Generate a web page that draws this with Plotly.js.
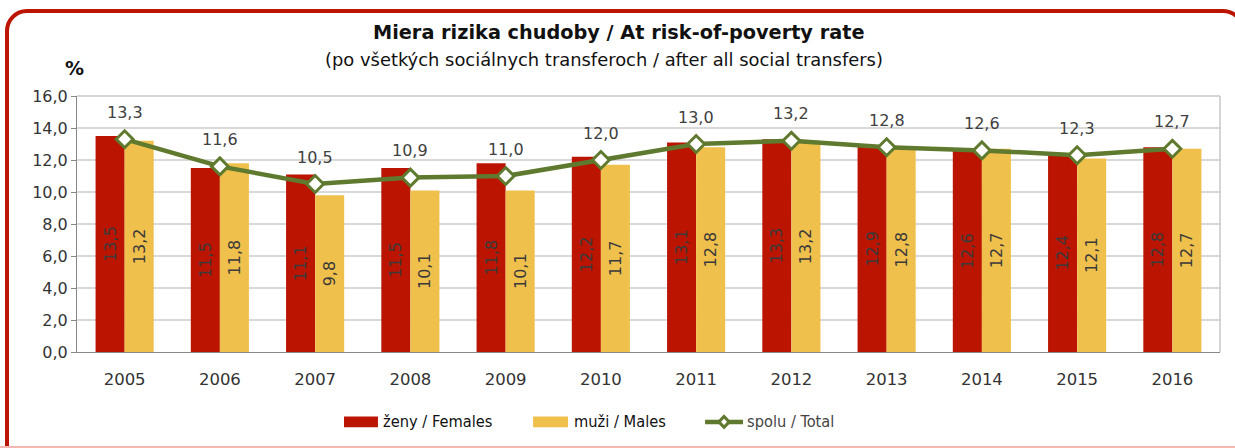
<!DOCTYPE html>
<html>
<head>
<meta charset="utf-8">
<script src="https://cdn.plot.ly/plotly-3.0.1.min.js"></script>
<style>
html,body{margin:0;padding:0;background:#fff;}
#wrap{position:relative;width:1235px;height:448px;overflow:hidden;}
#frame{position:absolute;left:5px;top:9px;width:1240px;height:460px;border:4px solid #bb1400;border-radius:22px;box-sizing:border-box;}
#bottomline{position:absolute;left:0;top:446px;width:1235px;height:2px;background:#f3b9b0;}
#chart{position:absolute;left:0;top:0;width:1235px;height:448px;}
</style>
</head>
<body>
<div id="wrap">
<div id="frame"></div>
<div id="bottomline"></div>
<div id="chart"></div>
</div>
<script>
const years = ['2005','2006','2007','2008','2009','2010','2011','2012','2013','2014','2015','2016'];
const females = [13.5, 11.5, 11.1, 11.5, 11.8, 12.2, 13.1, 13.3, 12.9, 12.6, 12.4, 12.8];
const males = [13.2, 11.8, 9.8, 10.1, 10.1, 11.7, 12.8, 13.2, 12.8, 12.7, 12.1, 12.7];
const total = [13.3, 11.6, 10.5, 10.9, 11.0, 12.0, 13.0, 13.2, 12.8, 12.6, 12.3, 12.7];
const yTicks = [0, 2, 4, 6, 8, 10, 12, 14, 16];
const seriesNames = ['ženy / Females', 'muži / Males', 'spolu / Total'];

const RED = '#bb1400', YELLOW = '#f0c04c', GREEN = '#5f7a2e';
const fmt = v => v.toFixed(1).replace('.', ',');
const barFont = {family: 'DejaVu Sans', size: 16, color: '#3a3a3a'};

const traces = [
  {
    type: 'bar', name: seriesNames[0], x: years, y: females,
    marker: {color: RED},
    text: females.map(fmt), textposition: 'inside', insidetextanchor: 'middle',
    textangle: -90, textfont: barFont, hoverinfo: 'skip'
  },
  {
    type: 'bar', name: seriesNames[1], x: years, y: males,
    marker: {color: YELLOW},
    text: males.map(fmt), textposition: 'inside', insidetextanchor: 'middle',
    textangle: -90, textfont: barFont, hoverinfo: 'skip'
  },
  {
    type: 'scatter', mode: 'lines+markers', name: seriesNames[2], x: years, y: total,
    line: {color: GREEN, width: 4.5},
    marker: {symbol: 'diamond', size: 13, color: '#ffffff', line: {color: GREEN, width: 3}},
    hoverinfo: 'skip', cliponaxis: false
  }
];

// total labels above markers (x given as category index on the category axis)
const annotations = total.map((v, i) => ({
  x: i, y: v, xref: 'x', yref: 'y', text: fmt(v), showarrow: false,
  yshift: 27, xanchor: 'center', yanchor: 'middle',
  font: {family: 'DejaVu Sans', size: 16, color: '#404040'}
}));

annotations.push(
  {text: '<b>Miera rizika chudoby / At risk-of-poverty rate</b>', xref: 'paper', yref: 'paper',
   x: 0.474, y: 1.25, xanchor: 'center', yanchor: 'middle', showarrow: false,
   font: {family: 'DejaVu Sans', size: 19.3, color: '#111111'}},
  {text: '(po všetkých sociálnych transferoch / after all social transfers)', xref: 'paper', yref: 'paper',
   x: 0.4615, y: 1.141, xanchor: 'center', yanchor: 'middle', showarrow: false,
   font: {family: 'DejaVu Sans', size: 17.9, color: '#111111'}},
  {text: '<b>%</b>', xref: 'paper', yref: 'paper', x: -0.002, y: 1.109, xanchor: 'center', yanchor: 'middle',
   showarrow: false, font: {family: 'DejaVu Sans', size: 19, color: '#111111'}}
);

// custom legend (wide swatches like the reference)
const legY = -0.273;
const legItems = [
  {x0: 0.2336, x1: 0.2633, kind: 'bar', color: RED, tx: 0.2664, name: seriesNames[0], fc: '#111111'},
  {x0: 0.3990, x1: 0.4296, kind: 'bar', color: YELLOW, tx: 0.4331, name: seriesNames[1], fc: '#111111'},
  {x0: 0.5495, x1: 0.5827, kind: 'line', color: GREEN, tx: 0.5845, name: seriesNames[2], fc: '#444444'}
];
const shapes = [
  {type: 'line', xref: 'paper', yref: 'paper', x0: 1, x1: 1, y0: 0, y1: 1, line: {color: '#c8c8c8', width: 1.5}},
  {type: 'line', xref: 'paper', yref: 'paper', x0: 0, x1: 1, y0: 1, y1: 1, line: {color: '#c8c8c8', width: 1.5}}
];
legItems.forEach(it => {
  if (it.kind === 'bar') {
    shapes.push({type: 'rect', xref: 'paper', yref: 'paper', x0: it.x0, x1: it.x1,
      y0: legY - 0.021, y1: legY + 0.021, fillcolor: it.color, line: {width: 0}});
  } else {
    shapes.push({type: 'line', xref: 'paper', yref: 'paper', x0: it.x0, x1: it.x1,
      y0: legY, y1: legY, line: {color: it.color, width: 4.5}});
    const xm = (it.x0 + it.x1) / 2, dx = 0.0045, dy = 0.021;
    shapes.push({type: 'path', xref: 'paper', yref: 'paper',
      path: `M ${xm - dx} ${legY} L ${xm} ${legY + dy} L ${xm + dx} ${legY} L ${xm} ${legY - dy} Z`,
      fillcolor: '#ffffff', line: {color: it.color, width: 3}});
  }
  annotations.push({text: it.name, xref: 'paper', yref: 'paper', x: it.tx, y: legY,
    xanchor: 'left', yanchor: 'middle', showarrow: false,
    font: {family: 'DejaVu Sans Condensed', size: 16.3, color: it.fc}});
});

const layout = {
  width: 1235, height: 448,
  paper_bgcolor: 'rgba(0,0,0,0)', plot_bgcolor: '#ffffff',
  separators: ', ',
  margin: {l: 77, r: 15, t: 96, b: 96},
  barmode: 'group', bargap: 0.39, bargroupgap: 0,
  showlegend: false,
  xaxis: {
    type: 'category', automargin: false, range: [-0.5, years.length - 0.5],
    showgrid: false, zeroline: false,
    showline: true, linecolor: '#888888', linewidth: 1,
    ticks: '', tickfont: {family: 'DejaVu Sans', size: 16.5, color: '#333333'},
    ticklabelstandoff: 12, fixedrange: true
  },
  yaxis: {
    range: [0, 16], tickvals: yTicks, tickformat: '.1f', automargin: false,
    showgrid: true, gridcolor: '#d9d9d9', gridwidth: 1.5, zeroline: false,
    showline: true, linecolor: '#888888', linewidth: 1,
    ticks: 'outside', ticklen: 5, tickcolor: '#888888',
    tickfont: {family: 'DejaVu Sans', size: 16, color: '#333333'},
    fixedrange: true
  },
  shapes: shapes,
  annotations: annotations
};

Plotly.newPlot('chart', traces, layout, {displayModeBar: false, staticPlot: true});
</script>
</body>
</html>
